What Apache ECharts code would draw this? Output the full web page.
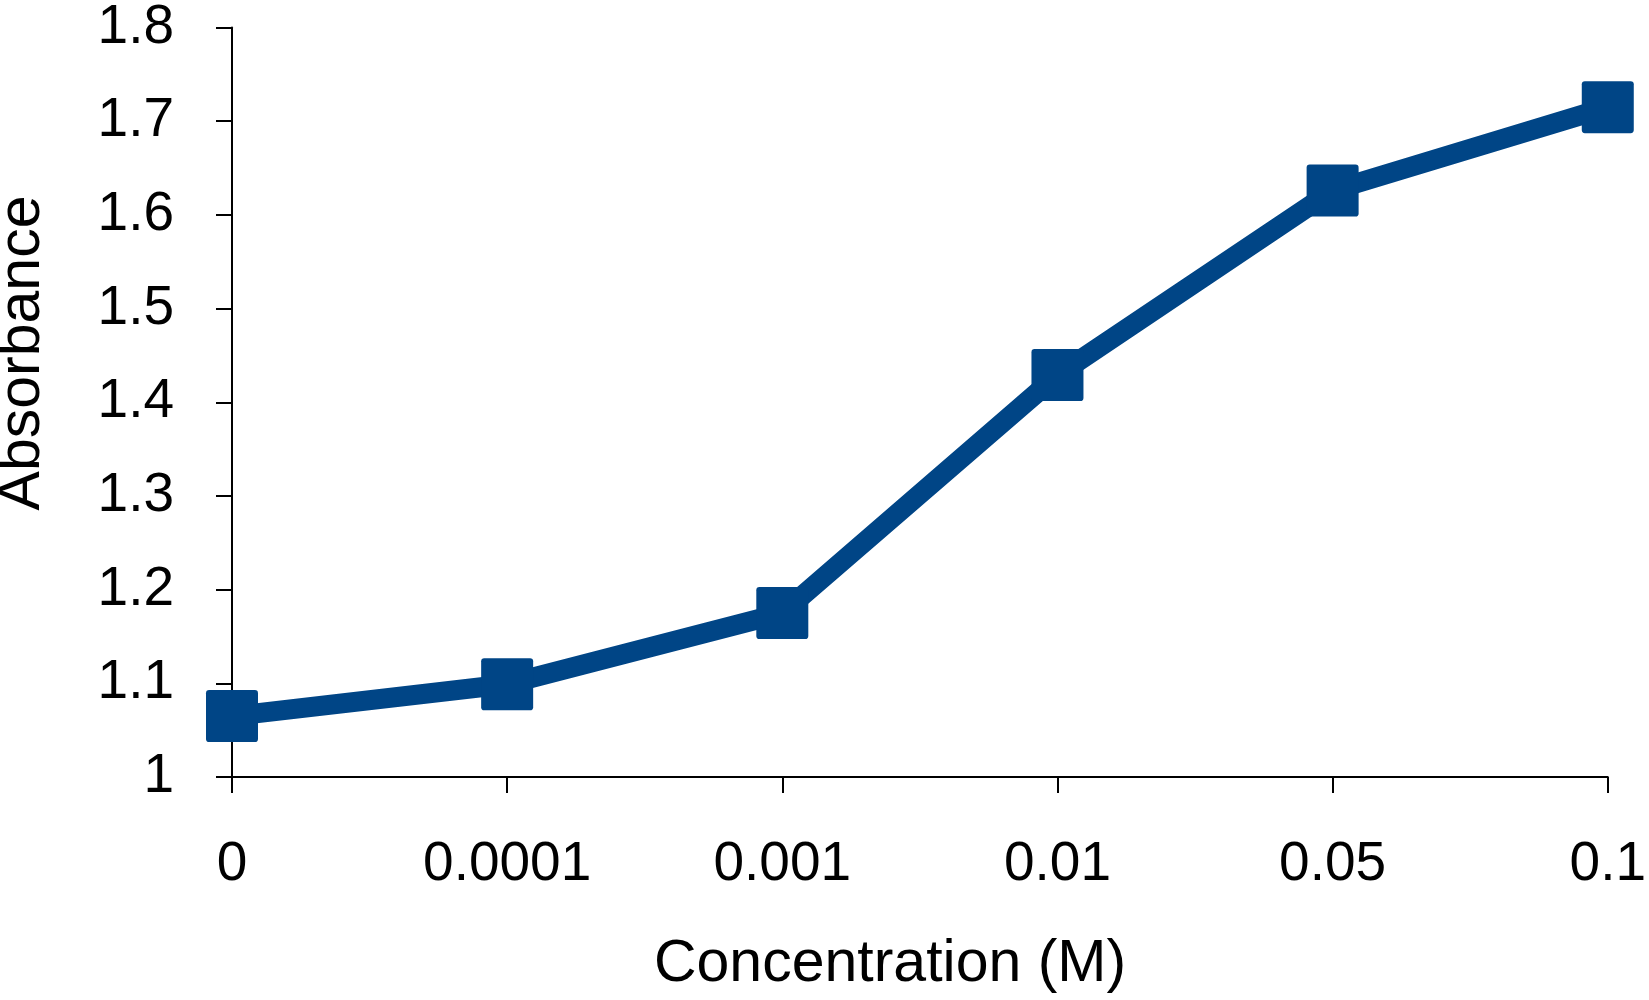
<!DOCTYPE html>
<html>
<head>
<meta charset="utf-8">
<script src="https://cdn.jsdelivr.net/npm/echarts@6/dist/echarts.min.js"></script>
<style>
html,body{margin:0;padding:0;background:#fff;overflow:hidden;}
#chart{width:1649px;height:1000px;}
</style>
</head>
<body>
<div id="chart"></div>
<script>
const categories = ['0', '0.0001', '0.001', '0.01', '0.05', '0.1'];
const absorbance = [1.065, 1.099, 1.175, 1.429, 1.626, 1.715];
const yMin = 1, yMax = 1.8, yStep = 0.1;
const xTitle = 'Concentration (M)';
const yTitle = 'Absorbance';

const chart = echarts.init(document.getElementById('chart'));
const font = 'Liberation Sans, Arial, sans-serif';
const squareSymbol = 'path://M6,0H94Q100,0 100,6V94Q100,100 94,100H6Q0,100 0,94V6Q0,0 6,0Z';
chart.setOption({
  animation: false,
  backgroundColor: '#ffffff',
  grid: {left: 232, right: 28, top: 21, bottom: 223, containLabel: false},
  xAxis: {
    type: 'category',
    data: categories,
    boundaryGap: false,
    axisLine: {lineStyle: {color: '#000', width: 2}},
    axisTick: {show: true, length: 16, alignWithLabel: true, lineStyle: {color: '#000', width: 2}},
    axisLabel: {color: '#000', fontSize: 55, fontFamily: font, margin: 60},
    splitLine: {show: false}
  },
  yAxis: {
    type: 'value',
    min: yMin, max: yMax, interval: yStep,
    axisLine: {show: true, lineStyle: {color: '#000', width: 2}},
    axisTick: {show: true, length: 16, lineStyle: {color: '#000', width: 2}},
    axisLabel: {color: '#000', fontSize: 55, fontFamily: font, margin: 58,
      formatter: v => String(Math.round(v * 10) / 10)},
    splitLine: {show: false}
  },
  graphic: [
    {type: 'text', x: 890, y: 965,
      style: {text: xTitle, fontSize: 59, fontFamily: font, fill: '#000',
        align: 'center', verticalAlign: 'middle'}},
    {type: 'text', x: 23, y: 353, rotation: Math.PI / 2,
      style: {text: yTitle, fontSize: 59, fontFamily: font, fill: '#000',
        align: 'center', verticalAlign: 'middle'}}
  ],
  series: [{
    type: 'line',
    data: absorbance,
    symbol: squareSymbol,
    symbolSize: 52,
    lineStyle: {color: '#004586', width: 20},
    itemStyle: {color: '#004586'},
    emphasis: {disabled: true}
  }]
});
</script>
</body>
</html>
